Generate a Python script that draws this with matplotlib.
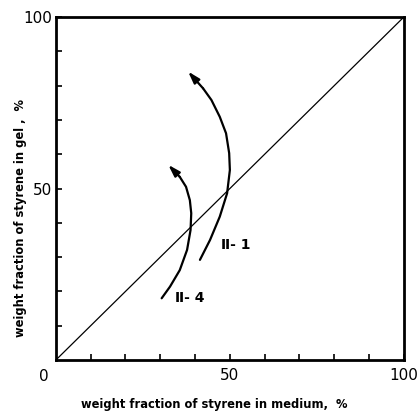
import numpy as np
import matplotlib
matplotlib.use("Agg")
import matplotlib.pyplot as plt

# equal-composition line
diag_x = [0, 100]
diag_y = [0, 100]

# trajectory of sample II-1 (medium %, gel %)
ii1_x = [41.4, 44.3, 47.1, 49.2, 50.0, 49.8, 48.9, 47.1, 44.7, 42.3, 38.0]
ii1_y = [29.2, 35.0, 41.8, 48.6, 55.4, 60.3, 66.1, 70.9, 75.8, 79.2, 84.1]

# trajectory of sample II-4
ii4_x = [30.4, 32.8, 35.6, 37.7, 38.7, 38.9, 38.5, 37.4, 35.6, 32.3]
ii4_y = [18.0, 21.4, 26.2, 32.1, 37.9, 42.8, 46.6, 50.5, 53.4, 56.9]

labels = ["\u2161- 1", "\u2161- 4"]
label_pos = [(47.5, 33.5), (34.3, 18.0)]

fig = plt.figure(figsize=(4.17, 4.15), dpi=100)
ax = fig.add_axes([0.134, 0.1325, 0.8345, 0.8265])

ax.plot(diag_x, diag_y, color="black", lw=0.9)

for xs, ys in [(ii1_x, ii1_y), (ii4_x, ii4_y)]:
    ax.plot(xs[:-1], ys[:-1], color="black", lw=1.6,
            solid_capstyle="round", solid_joinstyle="round")
    ax.annotate("", xy=(xs[-1], ys[-1]), xytext=(xs[-2], ys[-2]),
                arrowprops=dict(arrowstyle="-|>,head_length=0.7,head_width=0.22",
                                color="black", lw=1.6, shrinkA=0, shrinkB=0))

for text, (tx, ty) in zip(labels, label_pos):
    ax.text(tx, ty, text, fontsize=10, ha="left", va="center", fontweight="bold")

ax.set_xlim(0, 100)
ax.set_ylim(0, 100)
for s in ax.spines.values():
    s.set_linewidth(2)

ax.set_xticks(np.arange(10, 101, 10))
ax.set_yticks(np.arange(10, 101, 10))
ax.set_xticklabels(["" if v not in (50, 100) else str(v) for v in range(10, 101, 10)])
ax.set_yticklabels(["" if v not in (50, 100) else str(v) for v in range(10, 101, 10)])
ax.tick_params(direction="in", length=4, width=1.2, labelsize=11, pad=6)
ax.tick_params(axis="y", pad=3)
ax.text(-3.5, -2.5, "0", fontsize=11, ha="center", va="top", transform=ax.transData)

ax.set_xlabel("weight fraction of styrene in medium,  %", fontsize=8.3, fontweight="bold")
ax.set_ylabel("weight fraction of styrene in gel ,  %", fontsize=8.3, fontweight="bold")
ax.xaxis.set_label_coords(0.455, -0.112)
ax.yaxis.set_label_coords(-0.083, 0.414)

fig.savefig("out.png", dpi=100)
